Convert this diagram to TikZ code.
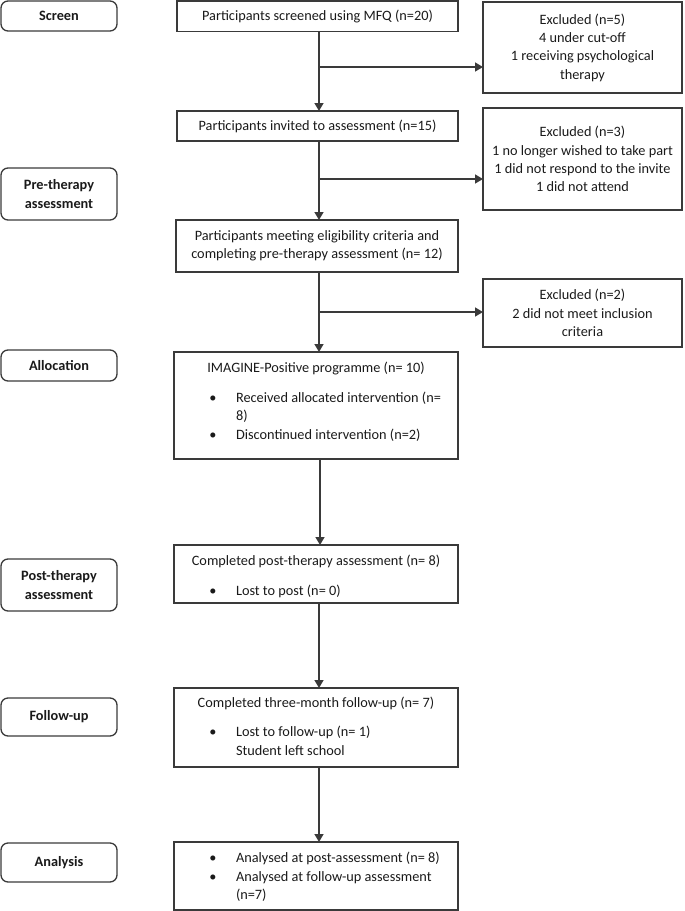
\documentclass[tikz,border=0pt]{standalone}
\usepackage{fontspec}
\setmainfont{Carlito}
\usetikzlibrary{arrows.meta}
\definecolor{ln}{HTML}{3A3A3A}
\definecolor{tx}{HTML}{1A1A1A}
\begin{document}
\begin{tikzpicture}[x=1pt,y=-1pt,
  every node/.style={font=\fontsize{14.3}{18.3}\selectfont, text=tx, inner sep=0pt, outer sep=0pt},
  box/.style={draw=ln, line width=1.3pt, rectangle, align=center},
  lab/.style={draw=ln, line width=1.3pt, rectangle, rounded corners=7pt, align=center, minimum width=116pt,
              font=\fontsize{14.3}{18.3}\selectfont\bfseries},
  conn/.style={draw=ln, line width=1.5pt, -{Triangle[length=8pt,width=9pt]}}]
\useasboundingbox (0,0) rectangle (685,911);

% left stage labels
\node[lab, minimum height=30pt] (l1) at (59,16) {Screen};
\node[lab, minimum height=52pt] (l2) at (59,194) {Pre-therapy\\assessment};
\node[lab, minimum height=31pt] (l3) at (59,365.5) {Allocation};
\node[lab, minimum height=52pt] (l4) at (59,585) {Post-therapy\\assessment};
\node[lab, minimum height=38pt] (l5) at (59,717) {Follow-up};
\node[lab, minimum height=39pt] (l6) at (59,862.5) {Analysis};

% main boxes
\node[box, minimum width=281pt, minimum height=30.5pt] (b1) at (317.5,16.25) {Participants screened using MFQ (n=20)};
\node[box, minimum width=281pt, minimum height=30pt] (b2) at (317.5,126) {Participants invited to assessment (n=15)};
\node[box, minimum width=282pt, minimum height=52pt] (b3) at (317,246) {Participants meeting eligibility criteria and\\completing pre-therapy assessment (n= 12)};
\node[box, minimum width=284pt, minimum height=107pt] (b4) at (316,405.5) {};
\node[box, minimum width=284pt, minimum height=58pt] (b5) at (316,574) {};
\node[box, minimum width=284pt, minimum height=79pt] (b6) at (316,727.5) {};
\node[box, minimum width=284pt, minimum height=68pt] (b7) at (316,876) {};

% excluded boxes
\node[box, minimum width=199pt, minimum height=91pt] (e1) at (582.5,47.5) {Excluded (n=5)\\4 under cut-off\\1 receiving psychological\\therapy};
\node[box, minimum width=199pt, minimum height=102pt] (e2) at (582.5,159) {Excluded (n=3)\\1 no longer wished to take part\\1 did not respond to the invite\\1 did not attend};
\node[box, minimum width=199pt, minimum height=68pt] (e3) at (582.5,313) {Excluded (n=2)\\2 did not meet inclusion\\criteria};

% box 4 contents
\node[anchor=base] (t4) at (316,372) {IMAGINE-Positive programme (n= 10)};
\node[anchor=base] (t4a) at (213,402) {\textbullet};
\node[anchor=base west] (t4b) at (236,402) {Received allocated intervention (n=};
\node[anchor=base west] (t4c) at (236,420) {8)};
\node[anchor=base] (t4d) at (213,439) {\textbullet};
\node[anchor=base west] (t4e) at (236,439) {Discontinued intervention (n=2)};

% box 5 contents
\node[anchor=base] (t5) at (316,565) {Completed post-therapy assessment (n= 8)};
\node[anchor=base] (t5a) at (213,595) {\textbullet};
\node[anchor=base west] (t5b) at (236,595) {Lost to post (n= 0)};

% box 6 contents
\node[anchor=base] (t6) at (316,707) {Completed three-month follow-up (n= 7)};
\node[anchor=base] (t6a) at (213,736) {\textbullet};
\node[anchor=base west] (t6b) at (236,736) {Lost to follow-up (n= 1)};
\node[anchor=base west] (t6c) at (236,755) {Student left school};

% box 7 contents
\node[anchor=base] (t7a) at (213,862) {\textbullet};
\node[anchor=base west] (t7b) at (236,862) {Analysed at post-assessment (n= 8)};
\node[anchor=base] (t7c) at (213,881) {\textbullet};
\node[anchor=base west] (t7d) at (236,881) {Analysed at follow-up assessment};
\node[anchor=base west] (t7e) at (236,899.5) {(n=7)};

% connectors
\coordinate (mx) at (319,0);
\coordinate (mx2) at (320,0);
\coordinate (j1) at (319,67);
\coordinate (j2) at (319,179);
\coordinate (j3) at (319,312);

\draw[conn] (b1.south -| mx) -- (b2.north -| mx);
\draw[conn] (j1) -- (e1.west |- j1);
\draw[conn] (b2.south -| mx) -- (b3.north -| mx);
\draw[conn] (j2) -- (e2.west |- j2);
\draw[conn] (b3.south -| mx) -- (b4.north -| mx);
\draw[conn] (j3) -- (e3.west |- j3);
\draw[conn] (b4.south -| mx2) -- (b5.north -| mx2);
\draw[conn] (b5.south -| mx) -- (b6.north -| mx);
\draw[conn] (b6.south -| mx) -- (b7.north -| mx);
\end{tikzpicture}
\end{document}
